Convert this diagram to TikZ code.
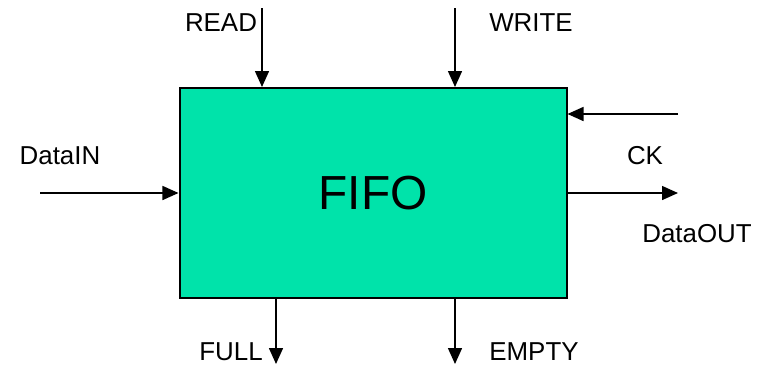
\documentclass[tikz,border=0pt]{standalone}
\usepackage{fontspec}
\setmainfont{Liberation Sans}
\usetikzlibrary{arrows.meta}
\definecolor{fifogreen}{HTML}{00E3AA}
\begin{document}
\begin{tikzpicture}[x=1bp,y=-1bp,
  sig/.style={line width=1.5bp,-{Triangle[length=16bp,width=14bp]}},
  lbl/.style={font=\fontsize{26}{29}\selectfont,inner sep=0pt,anchor=center},
  box/.style={draw,line width=2bp,fill=fifogreen,minimum width=387bp,minimum height=210bp,inner sep=0pt,font=\fontsize{48}{52}\selectfont}]
\useasboundingbox (0,0) rectangle (765,365);
\node[box] (fifo) at (373,193) {FIFO};
% inputs
\coordinate (readS) at (262,8);
\coordinate (writeS) at (455,8);
\coordinate (ckS) at (678,114);
\coordinate (dinS) at (40,193);
\coordinate (doutE) at (678,193);
\coordinate (fullE) at (276,364);
\coordinate (emptyE) at (455,364);
\draw[sig] (readS) -- (readS |- fifo.north);
\draw[sig] (writeS) -- (writeS |- fifo.north);
\draw[sig] (ckS) -- (ckS -| fifo.east);
\draw[sig] (dinS) -- (dinS -| fifo.west);
\draw[sig] (doutE -| fifo.east) -- (doutE);
\draw[sig] (fullE |- fifo.south) -- (fullE);
\draw[sig] (emptyE |- fifo.south) -- (emptyE);
% labels
\node[lbl] (readL) at (221,23) {READ};
\node[lbl] (writeL) at (531,23) {WRITE};
\node[lbl] (dinL) at (60,156) {DataIN};
\node[lbl] (ckL) at (645,156) {CK};
\node[lbl] (doutL) at (697,234) {DataOUT};
\node[lbl] (fullL) at (231,352) {FULL};
\node[lbl] (emptyL) at (534,352) {EMPTY};
\end{tikzpicture}
\end{document}
